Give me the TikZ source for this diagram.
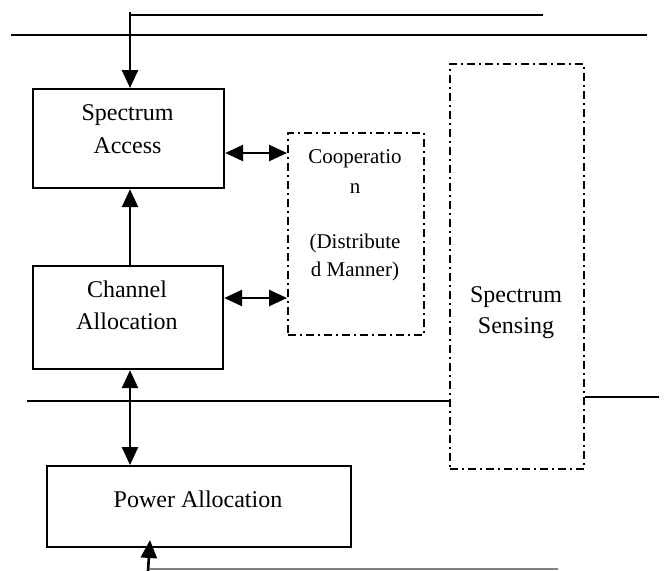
\documentclass[tikz,border=0pt]{standalone}
\usepackage{fontspec}
\setmainfont{Liberation Serif}
\usetikzlibrary{arrows.meta}
\begin{document}
\begin{tikzpicture}[x=1pt,y=-1pt,
  solidbox/.style={draw=black,line width=2.2pt,inner sep=0pt,anchor=north west},
  dashbox/.style={draw=black,line width=1.8pt,inner sep=0pt,anchor=north west,
     dash pattern=on 8pt off 4pt on 2pt off 4pt},
  lbl/.style={anchor=base,inner sep=0pt,font=\fontsize{24}{28}\selectfont},
  slbl/.style={anchor=base,inner sep=0pt,font=\fontsize{21}{25}\selectfont},
  hline/.style={line width=2.2pt},
  arr/.style={line width=2.6pt,-{Triangle[length=18pt,width=16pt]}},
  darr/.style={line width=2.6pt,{Triangle[length=18pt,width=16pt]}-{Triangle[length=18pt,width=16pt]}}]
\useasboundingbox (0,0) rectangle (665,571);
% boxes
\node[solidbox,minimum width=191pt,minimum height=99pt] (sa) at (32,88) {};
\node[solidbox,minimum width=190pt,minimum height=103pt] (ca) at (32,265) {};
\node[solidbox,minimum width=304pt,minimum height=81pt] (pa) at (46,465) {};
\node[dashbox,minimum width=136pt,minimum height=202pt] (co) at (287,132) {};
\node[dashbox,minimum width=134pt,minimum height=405pt] (ss) at (449,63) {};
% labels
\node[lbl] (sa1) at (127.5,120) {Spectrum};
\node[lbl] (sa2) at (127.5,153) {Access};
\node[lbl] (ca1) at (127,297) {Channel};
\node[lbl] (ca2) at (127,329) {Allocation};
\node[lbl] (pa1) at (198,507) {Power Allocation};
\node[slbl] (co1) at (355,163) {Cooperatio};
\node[slbl] (co2) at (355,193) {n};
\node[slbl] (co3) at (355,248) {(Distribute};
\node[slbl] (co4) at (355,276) {d Manner)};
\node[lbl] (ss1) at (516,302) {Spectrum};
\node[lbl] (ss2) at (516,333) {Sensing};
% lines
\coordinate (t0) at (130,12);
\coordinate (t1) at (130,15);
\coordinate (t2) at (543,15);
\draw[hline] (t1) -- (t2);
\coordinate (l1) at (11,35);
\coordinate (l2) at (647,35);
\draw[hline] (l1) -- (l2);
\coordinate (m1) at (27,401);
\draw[hline] (m1) -- (ss.west |- m1);
\coordinate (r2) at (659,397);
\draw[hline] (ss.east |- r2) -- (r2);
\coordinate (b1) at (148,569);
\coordinate (b2) at (558,569);
\draw[line width=1.4pt,gray] (b1) -- (b2);
% arrows
\draw[arr] (t0) -- (sa.north -| t0);
\draw[arr] (ca.north -| t0) -- (sa.south -| t0);
\draw[darr] (ca.south -| t0) -- (pa.north -| t0);
\draw[darr] (sa.east |- 0,153) -- (co.west |- 0,153);
\draw[darr] (ca.east |- 0,298) -- (co.west |- 0,298);
\coordinate (u0) at (148,571);
\coordinate (u1) at (150,540);
\draw[arr] (u0) -- (u1);
\end{tikzpicture}
\end{document}
